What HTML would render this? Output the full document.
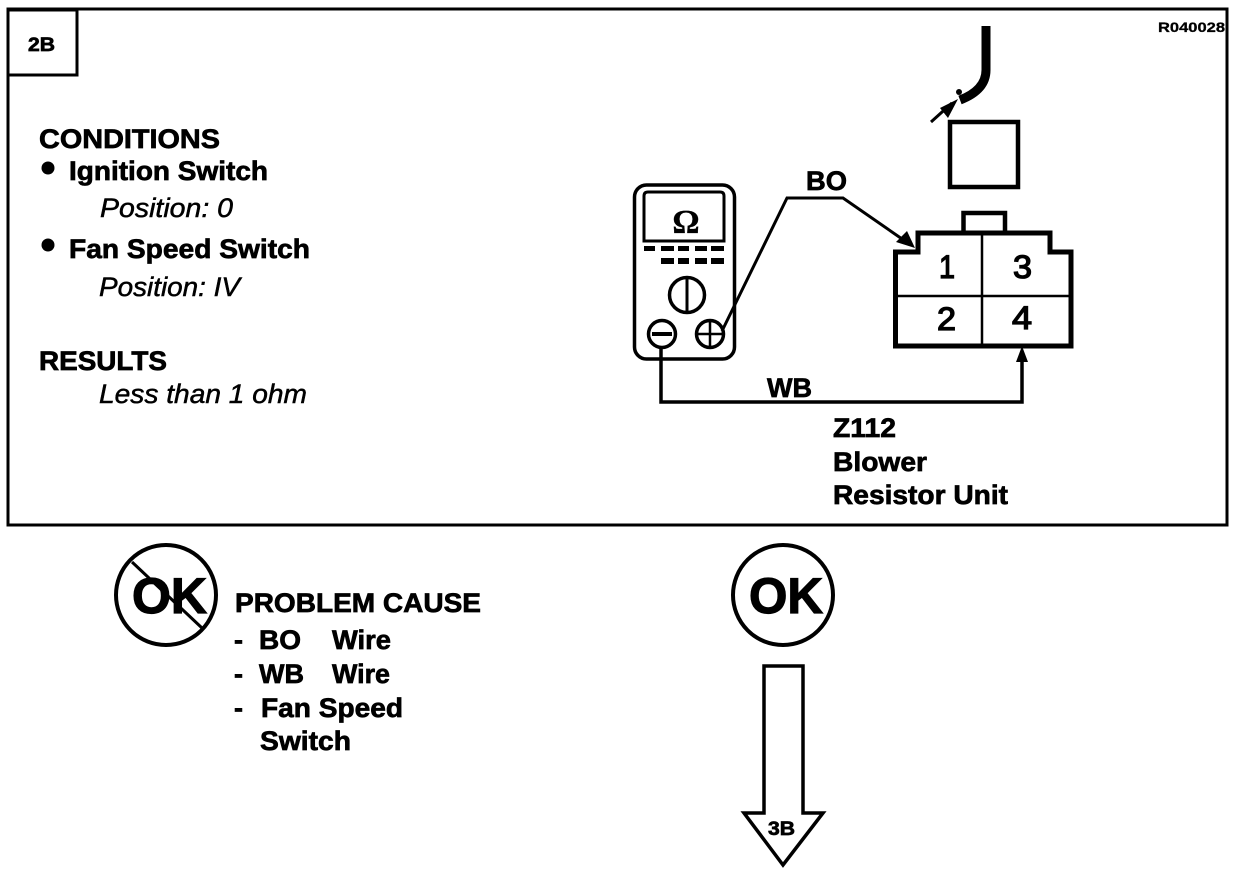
<!DOCTYPE html>
<html><head><meta charset="utf-8"><style>
html,body{margin:0;padding:0;background:#fff}
svg{display:block}
text{font-family:"Liberation Sans",sans-serif;font-weight:bold;fill:#000;stroke:#000;stroke-width:.7px}
.i{font-weight:normal;font-style:italic;font-size:27px;stroke-width:.5px}
.t{font-size:27px}
.n{font-weight:normal;font-size:32px;stroke-width:1.3px}
</style></head><body>
<svg width="1248" height="874" viewBox="0 0 1248 874" xmlns="http://www.w3.org/2000/svg">
<g fill="none" stroke="#000">
<rect x="8" y="9" width="1219" height="516" stroke-width="3"/>
<path d="M9 10H77V75H9" stroke-width="3"/>
<!-- meter -->
<rect x="634.5" y="185" width="100" height="174" rx="12" stroke-width="3.5"/>
<path d="M644 241V196Q644 192 648 192H720Q724 192 724 196V241Z" stroke-width="3"/>
<circle cx="687" cy="295" r="17.5" stroke-width="3.5"/>
<path d="M687 278V312" stroke-width="3"/>
<circle cx="662" cy="334" r="13.5" stroke-width="3.5"/>
<path d="M652 334H672" stroke-width="4"/>
<circle cx="710" cy="334" r="13.5" stroke-width="3.5"/>
<path d="M710 321V347M697 334H723" stroke-width="2.5"/>
<!-- wires -->
<path d="M722 331L787 198H843L905 241" stroke-width="3"/>
<path d="M661 348V402H1022V358" stroke-width="3.5"/>
<!-- cable -->
<path d="M986 26V70Q986 90 960 100" stroke-width="9"/>
<path d="M931 122L952 103" stroke-width="3"/>
<!-- square -->
<rect x="950" y="122" width="68" height="65" stroke-width="4.5"/>
<!-- connector -->
<path d="M895.5 346V252H918V233H1050V252H1071V346Z" stroke-width="5"/>
<path d="M963.5 233V213H1005V233" stroke-width="4.5"/>
<path d="M982 233V346M895 296H1071" stroke-width="2.5"/>
<!-- not ok -->
<circle cx="166" cy="595" r="50" stroke-width="4"/>
<path d="M132 562L202 628" stroke-width="3"/>
<!-- ok -->
<circle cx="783" cy="595" r="50" stroke-width="4"/>
<!-- down arrow -->
<path d="M764 666H803V813H823L783 865L744 813H764Z" stroke-width="3.5"/>
</g>
<g fill="#000">
<path d="M644 246h11v5h-11zM661 246h13v5h-13zM678 246h11v5h-11zM695 246h12v5h-12zM711 246h13v5h-13z"/>
<path d="M661 258h13v6h-13zM678 258h11v6h-11zM695 258h12v6h-12zM711 258h13v6h-13z"/>
<path d="M915 248L896 242L907 231Z"/>
<path d="M1022 346L1016 362H1028Z"/>
<path d="M958 99L940 108L948 118Z"/>
<circle cx="959" cy="92" r="3"/>
<circle cx="48" cy="168" r="6.5"/>
<circle cx="48" cy="245" r="6.5"/>
</g>
<text x="28" y="51" font-size="19" textLength="27" lengthAdjust="spacingAndGlyphs">2B</text>
<text x="1158" y="32" font-size="14" textLength="67" lengthAdjust="spacingAndGlyphs" style="stroke-width:.3px">R040028</text>
<text class="t" x="39" y="148" textLength="181" lengthAdjust="spacingAndGlyphs">CONDITIONS</text>
<text class="t" x="69" y="180" textLength="199" lengthAdjust="spacingAndGlyphs">Ignition Switch</text>
<text class="i" x="100" y="217" textLength="133" lengthAdjust="spacingAndGlyphs">Position: 0</text>
<text class="t" x="69" y="258" textLength="241" lengthAdjust="spacingAndGlyphs">Fan Speed Switch</text>
<text class="i" x="99" y="296" textLength="141" lengthAdjust="spacingAndGlyphs">Position: IV</text>
<text class="t" x="39" y="370" textLength="128" lengthAdjust="spacingAndGlyphs">RESULTS</text>
<text class="i" x="99" y="403" textLength="208" lengthAdjust="spacingAndGlyphs">Less than 1 ohm</text>
<text x="686" y="233" style="font-family:'Liberation Serif',serif;stroke-width:.3px" font-size="34" text-anchor="middle">Ω</text>
<text class="t" x="806" y="190" textLength="41" lengthAdjust="spacingAndGlyphs">BO</text>
<text class="t" x="767" y="397" textLength="45" lengthAdjust="spacingAndGlyphs">WB</text>
<text class="n" x="939" y="278" textLength="16" lengthAdjust="spacingAndGlyphs">1</text>
<text class="n" x="1013" y="278" textLength="19" lengthAdjust="spacingAndGlyphs">3</text>
<text class="n" x="937" y="330" textLength="19" lengthAdjust="spacingAndGlyphs">2</text>
<text class="n" x="1012" y="329" textLength="20" lengthAdjust="spacingAndGlyphs">4</text>
<text class="t" x="833" y="437" textLength="63" lengthAdjust="spacingAndGlyphs">Z112</text>
<text class="t" x="833" y="471" textLength="94" lengthAdjust="spacingAndGlyphs">Blower</text>
<text class="t" x="833" y="504" textLength="175" lengthAdjust="spacingAndGlyphs">Resistor Unit</text>
<text x="132" y="613" font-size="50" textLength="75" lengthAdjust="spacingAndGlyphs" style="stroke-width:1.2px">OK</text>
<text x="749" y="613" font-size="50" textLength="74" lengthAdjust="spacingAndGlyphs" style="stroke-width:1.2px">OK</text>
<text class="t" x="235" y="612" textLength="246" lengthAdjust="spacingAndGlyphs">PROBLEM CAUSE</text>
<text class="t" x="234" y="649">-</text>
<text class="t" x="259" y="649" textLength="42" lengthAdjust="spacingAndGlyphs">BO</text>
<text class="t" x="332" y="649" textLength="59" lengthAdjust="spacingAndGlyphs">Wire</text>
<text class="t" x="234" y="683">-</text>
<text class="t" x="259" y="683" textLength="45" lengthAdjust="spacingAndGlyphs">WB</text>
<text class="t" x="332" y="683" textLength="58" lengthAdjust="spacingAndGlyphs">Wire</text>
<text class="t" x="234" y="717">-</text>
<text class="t" x="261" y="717" textLength="142" lengthAdjust="spacingAndGlyphs">Fan Speed</text>
<text class="t" x="260" y="750" textLength="91" lengthAdjust="spacingAndGlyphs">Switch</text>
<text x="768" y="835" font-size="19" textLength="27" lengthAdjust="spacingAndGlyphs">3B</text>
</svg>
</body></html>
